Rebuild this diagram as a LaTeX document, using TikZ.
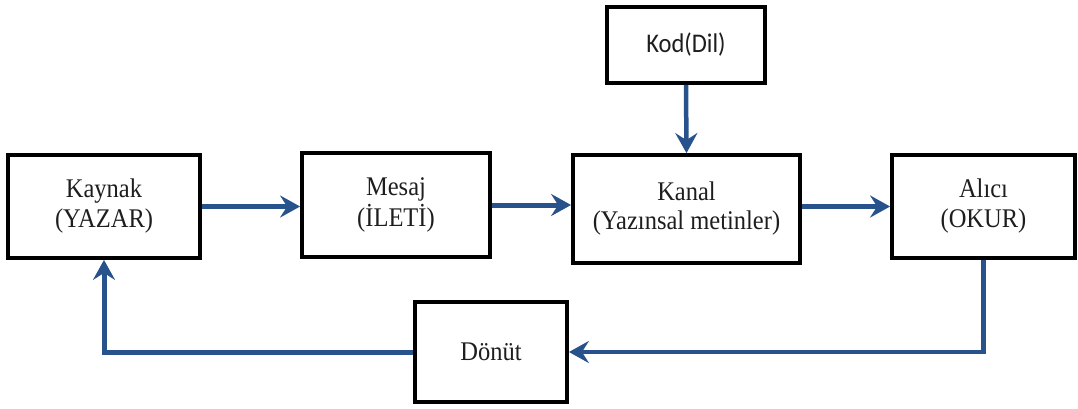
\documentclass[tikz,border=0pt]{standalone}
\usepackage{fontspec}
\usepackage{graphicx}
\setmainfont{Liberation Serif}
\newfontfamily\kodfont{Carlito}
\usetikzlibrary{arrows.meta}
\definecolor{arrowblue}{RGB}{40,82,140}
\definecolor{txt}{RGB}{30,30,30}
\newcommand\twoline[1]{\scalebox{1}[1.1]{\begin{tabular}{@{}c@{}}#1\end{tabular}}}
\tikzset{
  box/.style={draw=black, line width=3.8pt, fill=white, rectangle, inner sep=0pt,
    text=txt, font=\fontsize{24.5}{27}\selectfont},
  flow/.style={draw=arrowblue, line width=5pt,
    -{Stealth[length=20pt,width=22pt,inset=7pt]}},
}
\begin{document}
\begin{tikzpicture}[x=1pt,y=-1pt]
\useasboundingbox (0,0) rectangle (1078,408);
\node[box, minimum width=158pt, minimum height=76pt] (kod) at (686,45)
  {\kodfont\scalebox{1}[1.1]{Kod(Dil)}};
\node[box, minimum width=192pt, minimum height=103pt] (kaynak) at (104,206.5)
  {\twoline{Kaynak\\(YAZAR)}};
\node[box, minimum width=188pt, minimum height=104pt] (mesaj) at (396,205)
  {\twoline{Mesaj\\(İLETİ)}};
\node[box, minimum width=227pt, minimum height=108pt] (kanal) at (686.5,209)
  {\twoline{Kanal\\(Yazınsal metinler)}};
\node[box, minimum width=183pt, minimum height=103pt] (alici) at (983.5,206.5)
  {\twoline{Alıcı\\(OKUR)}};
\node[box, minimum width=152pt, minimum height=100pt] (donut) at (491,352)
  {\scalebox{1}[1.1]{Dönüt}};

\draw[flow] (kaynak.east) -- (mesaj.west |- kaynak.east);
\draw[flow] (mesaj.east) -- (kanal.west |- mesaj.east);
\draw[flow] (kanal.east |- alici.west) -- (alici.west);
\draw[flow, line width=4.5pt] (kod.south) -- (kanal.north);
\draw[flow, line width=4.2pt] (alici.south) |- (donut.east);
\draw[flow] (donut.west) -| (kaynak.south);
\end{tikzpicture}
\end{document}
